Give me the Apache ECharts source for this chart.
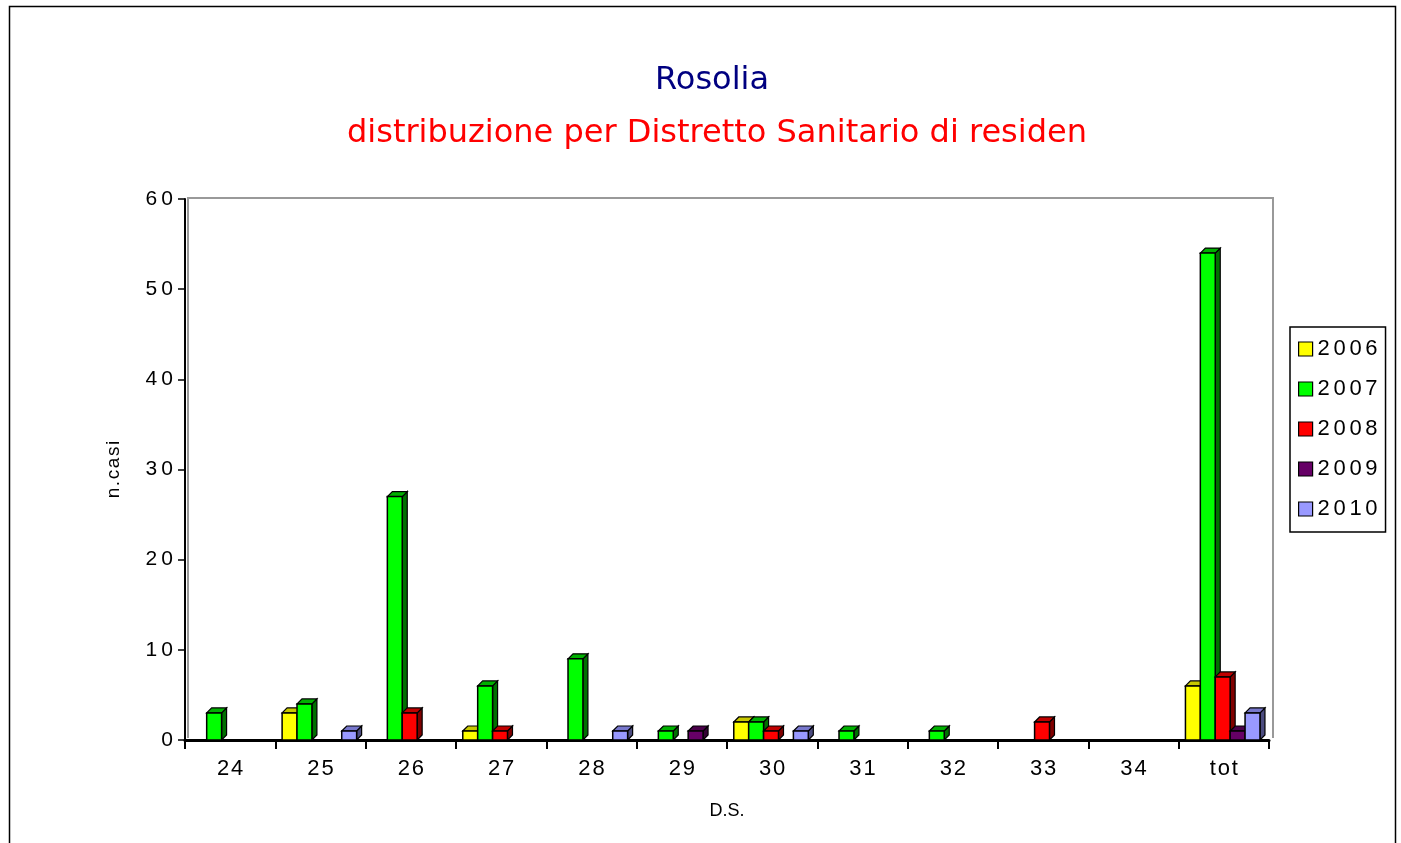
<!DOCTYPE html>
<html><head><meta charset="utf-8">
<script src="https://cdn.jsdelivr.net/npm/echarts@6/dist/echarts.min.js"></script>
<style>html,body{margin:0;padding:0;background:#fff}#c{width:1401px;height:843px}</style>
</head><body><div id="c"></div>
<script>
var categories = ['24','25','26','27','28','29','30','31','32','33','34','tot'];
var years = ['2006','2007','2008','2009','2010'];
var v2006 = [0,3,0,1,0,0,2,0,0,0,0,6];
var v2007 = [3,4,27,6,9,1,2,1,1,0,0,54];
var v2008 = [0,0,3,1,0,0,1,0,0,2,0,7];
var v2009 = [0,0,0,0,0,1,0,0,0,0,0,1];
var v2010 = [0,1,0,0,1,0,1,0,0,0,0,3];
var yTicks = [0,10,20,30,40,50,60];

var values = [v2006,v2007,v2008,v2009,v2010];
var colors = ['#FFFF00','#00FF00','#FF0000','#660066','#9999FF'];
var tops   = ['#C8C800','#00B000','#C00000','#4A004A','#7777CC'];
var sides  = ['#808000','#007000','#800000','#330033','#4C4C80'];

function spaced(s, sp){ return String(s).split('').join(sp); }

function makeRender(si){
  return function(params, api){
    var cat = api.value(0), val = api.value(1);
    if (!val) return null;
    var band = api.size([1,0])[0];
    var base = api.coord([cat,0]);
    var top = api.coord([cat,val]);
    var w = band*0.165;
    var x0 = base[0] - band/2 + band*0.075 + si*w;
    var d = 5;
    var yT = top[1], yB = base[1];
    return {type:'group', children:[
      {type:'polygon', shape:{points:[[x0+w,yT],[x0+w+d,yT-d],[x0+w+d,yB-d],[x0+w,yB]]},
        style:{fill:sides[si], stroke:'#000', lineWidth:1.2}},
      {type:'polygon', shape:{points:[[x0,yT],[x0+d,yT-d],[x0+w+d,yT-d],[x0+w,yT]]},
        style:{fill:tops[si], stroke:'#000', lineWidth:1.2}},
      {type:'rect', shape:{x:x0,y:yT,width:w,height:yB-yT},
        style:{fill:colors[si], stroke:'#000', lineWidth:1.5}}
    ]};
  };
}

var series = years.map(function(y,si){
  return {
    name:y, type:'custom', renderItem:makeRender(si),
    itemStyle:{color:colors[si]},
    encode:{x:0,y:1},
    data: values[si].map(function(v,i){return [i,v];})
  };
});

var FF = 'Liberation Sans, Arial, sans-serif';
var chart = echarts.init(document.getElementById('c'));
chart.setOption({
  animation:false,
  backgroundColor:'#fff',
  title:[
    {text:'Rosolia', left:650, top:60, textStyle:{color:'#000080', fontSize:32, fontWeight:'normal', fontFamily:'DejaVu Sans'}},
    {text:'distribuzione per Distretto Sanitario di residen', left:342, top:113, textStyle:{color:'#FF0000', fontSize:32, fontWeight:'normal', fontFamily:'DejaVu Sans'}}
  ],
  legend:{
    orient:'vertical', left:1290, top:327, width:93,
    itemWidth:14, itemHeight:14, itemGap:18,
    padding:[11,8,12,8],
    borderColor:'#000', borderWidth:1.5,
    icon:'rect',
    formatter:function(n){return spaced(n,'\u2006');},
    textStyle:{fontSize:22, color:'#000', fontFamily:FF, padding:[0,0,0,0]},
    data: years.map(function(y,si){return {name:y, itemStyle:{color:colors[si], borderColor:'#000', borderWidth:1.2}};})
  },
  grid:{left:185, right:132, top:199, bottom:103},
  xAxis:{
    type:'category', data:categories,
    name:'D.S.', nameLocation:'middle', nameGap:62,
    nameTextStyle:{fontSize:18, color:'#000', fontFamily:FF},
    axisLine:{lineStyle:{color:'#000', width:3}},
    axisTick:{show:true, length:9, lineStyle:{color:'#000', width:2}},
    axisLabel:{fontSize:22, color:'#000', margin:18, fontFamily:FF,
      formatter:function(v){return spaced(v,'\u200A');}},
    splitLine:{show:false}
  },
  yAxis:{
    type:'value', min:0, max:60, interval:10,
    name:spaced('n.casi','\u200A'), nameLocation:'middle', nameGap:62, nameRotate:90,
    nameTextStyle:{fontSize:19, color:'#000', fontFamily:FF},
    axisLine:{show:true, lineStyle:{color:'#000', width:2}},
    axisTick:{show:true, length:7, lineStyle:{color:'#000', width:1.5}},
    axisLabel:{fontSize:21, color:'#000', margin:12, fontFamily:FF,
      formatter:function(v){return yTicks.indexOf(v)>=0 ? spaced(v,'\u2009') : '';}},
    splitLine:{show:false}
  },
  graphic:[
    {type:'rect', left:7, top:4, shape:{width:1386, height:850}, style:{fill:null, stroke:'#000', lineWidth:1.5}, silent:true, z:-1},
    {type:'polyline', shape:{points:[[188,738],[188,198],[1273,198],[1273,738]]}, style:{fill:null, stroke:'#999', lineWidth:2}, silent:true, z:-1}
  ],
  series:series
});
</script></body></html>
